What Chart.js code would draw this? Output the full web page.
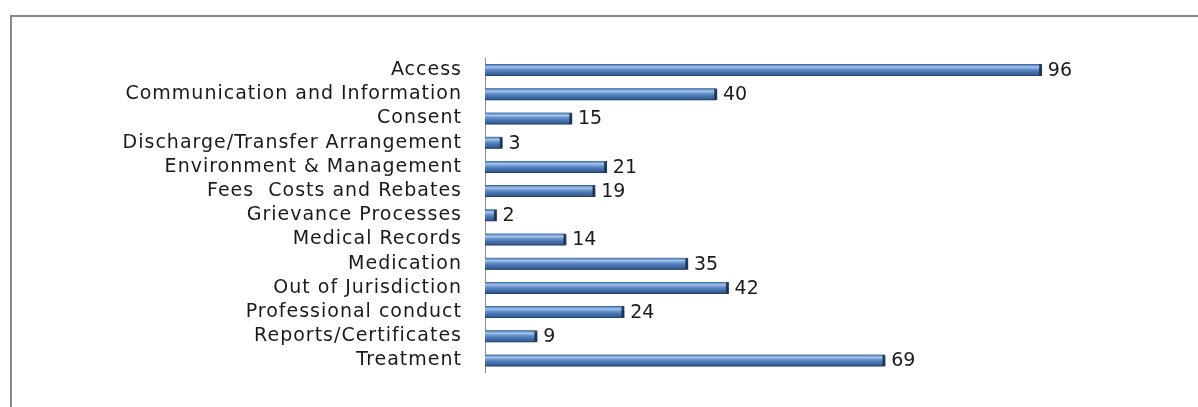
<!DOCTYPE html>
<html>
<head>
<meta charset="utf-8">
<script src="https://cdn.jsdelivr.net/npm/chart.js@4"></script>
<style>
  html, body { margin: 0; padding: 0; background: #fff; overflow: hidden; }
  #wrap { position: relative; width: 1198px; height: 407px; }
  #frame { position: absolute; left: 10px; top: 15px; width: 1300px; height: 500px; border: 2px solid #8a8a8a; box-sizing: border-box; }
  canvas { position: absolute; left: 0; top: 0; }
</style>
</head>
<body>
<div id="wrap">
  <div id="frame"></div>
  <canvas id="complaintsChart" width="1198" height="407"></canvas>
</div>
<script>
// complaint categories and counts
var categories = [
    'Access',
    'Communication and Information',
    'Consent',
    'Discharge/Transfer Arrangement',
    'Environment & Management',
    'Fees  Costs and Rebates',
    'Grievance Processes',
    'Medical Records',
    'Medication',
    'Out of Jurisdiction',
    'Professional conduct',
    'Reports/Certificates',
    'Treatment'
];
var counts = [96, 40, 15, 3, 21, 19, 2, 14, 35, 42, 24, 9, 69];

var fontFamily = '"DejaVu Sans", sans-serif';
var fontSize = 19;
var barThickness = 12;

// vertical shading so each bar looks like a rounded tube
function barFill(context) {
    var chart = context.chart;
    var y = chart.scales.y;
    if (!y || !chart.chartArea) return '#4f81bd';
    var mid = y.getPixelForValue(context.dataIndex);
    var g = chart.ctx.createLinearGradient(0, mid - barThickness / 2, 0, mid + barThickness / 2);
    g.addColorStop(0, '#2f5b95');
    g.addColorStop(0.12, '#6e98d0');
    g.addColorStop(0.25, '#a7c4ea');
    g.addColorStop(0.4, '#6d98d1');
    g.addColorStop(0.62, '#4a77b4');
    g.addColorStop(0.85, '#38629a');
    g.addColorStop(1, '#1d3860');
    return g;
}

// soft drop shadow under the bars
var barShadow = {
    id: 'barShadow',
    beforeDatasetsDraw: function(chart) {
        var ctx = chart.ctx;
        ctx.save();
        ctx.shadowColor = 'rgba(0, 0, 0, 0.45)';
        ctx.shadowBlur = 5;
        ctx.shadowOffsetX = 2;
        ctx.shadowOffsetY = 3;
    },
    afterDatasetsDraw: function(chart) {
        chart.ctx.restore();
    }
};

// slightly looser spacing for the category names
var textSpacing = {
    id: 'textSpacing',
    beforeDraw: function(chart) {
        chart.ctx.letterSpacing = '1px';
    }
};

// value written just past the end of each bar
var valueLabels = {
    id: 'valueLabels',
    afterDraw: function(chart) {
        var ctx = chart.ctx;
        var meta = chart.getDatasetMeta(0);
        ctx.save();
        ctx.letterSpacing = '0px';
        ctx.font = fontSize + 'px ' + fontFamily;
        ctx.fillStyle = '#1a1a1a';
        ctx.textAlign = 'left';
        ctx.textBaseline = 'middle';
        meta.data.forEach(function(bar, i) {
            ctx.fillText(String(counts[i]), bar.x + 6, bar.y + 1);
        });
        ctx.restore();
    }
};

var complaintsChart = new Chart(document.getElementById('complaintsChart'), {
    type: 'bar',
    data: {
        labels: categories,
        datasets: [{
            data: counts,
            backgroundColor: barFill,
            borderColor: '#28466f',
            borderWidth: { top: 0, bottom: 0, left: 0, right: 3 },
            borderSkipped: false,
            barThickness: barThickness
        }]
    },
    options: {
        indexAxis: 'y',
        responsive: false,
        animation: false,
        layout: {
            padding: { left: 0, right: 133, top: 58, bottom: 27 }
        },
        plugins: {
            legend: { display: false },
            tooltip: { enabled: false }
        },
        scales: {
            x: {
                display: false,
                min: 0,
                max: 100
            },
            y: {
                afterFit: function(scale) { scale.width = 485; },
                grid: { display: false, drawTicks: false },
                border: { display: true, color: '#8c8c8c', width: 1 },
                ticks: {
                    padding: 23,
                    color: '#1a1a1a',
                    font: { family: fontFamily, size: fontSize },
                    autoSkip: false
                }
            }
        }
    },
    plugins: [textSpacing, barShadow, valueLabels]
});
</script>
</body>
</html>
